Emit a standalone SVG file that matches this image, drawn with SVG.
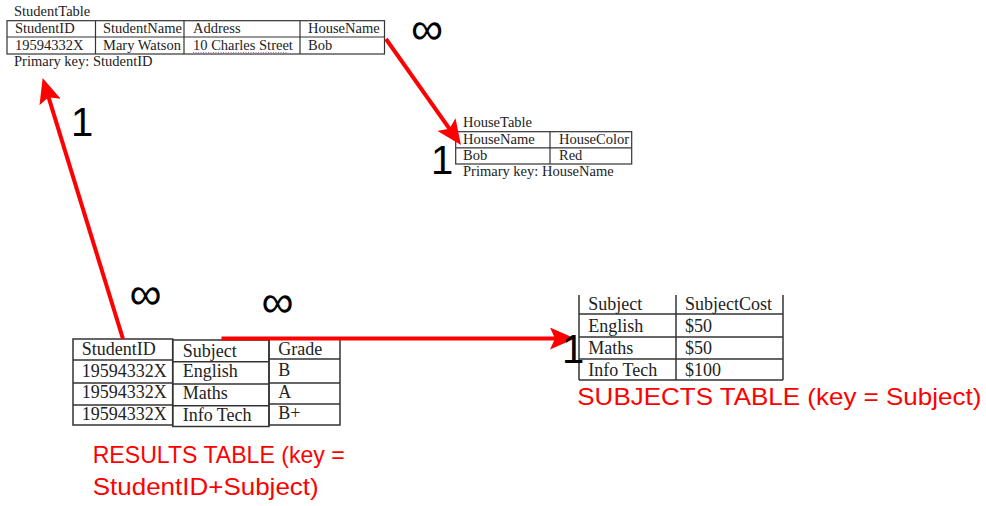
<svg xmlns="http://www.w3.org/2000/svg" width="986" height="506" viewBox="0 0 986 506">
<defs>
<marker id="arr" markerUnits="userSpaceOnUse" markerWidth="26" markerHeight="22" refX="15" refY="11" orient="auto">
<path d="M0,0 L25,11 L0,22 L5,11 Z" fill="#ff0000"/>
</marker>
</defs>
<style>
.t{font-family:"Liberation Serif","Times New Roman",serif;fill:#222}
.s{font-size:14.5px}
.b{font-size:18px}
.box{fill:none;stroke:#333;stroke-width:1.2}
.bx2{fill:none;stroke:#333;stroke-width:1.5}
.big{font-family:"Liberation Sans",Arial,sans-serif;font-size:40px;fill:#000;text-anchor:middle}
.inf{font-size:45px}
.red{font-family:"Liberation Sans",Arial,sans-serif;font-size:24px;fill:#ff0000}
.con{stroke:#ff0000;stroke-width:4;fill:none;marker-end:url(#arr)}
</style>
<rect width="986" height="506" fill="#ffffff"/>

<g id="student-table">
<text class="t s" x="14" y="16">StudentTable</text>
<rect class="box" x="7" y="20.7" width="377.5" height="33.3"/>
<line class="box" x1="7" y1="37" x2="384.5" y2="37"/>
<line class="box" x1="95.5" y1="20.7" x2="95.5" y2="54"/>
<line class="box" x1="184" y1="20.7" x2="184" y2="54"/>
<line class="box" x1="300" y1="20.7" x2="300" y2="54"/>
<text class="t s" x="15" y="33">StudentID</text>
<text class="t s" x="103" y="33">StudentName</text>
<text class="t s" x="193" y="33">Address</text>
<text class="t s" x="308" y="33">HouseName</text>
<text class="t s" x="15" y="50">19594332X</text>
<text class="t s" x="103" y="50">Mary Watson</text>
<text class="t s" x="193" y="50">10 Charles Street</text>
<line x1="193" y1="52.5" x2="287" y2="52.5" stroke="#b070c0" stroke-width="1" stroke-dasharray="1,1.5"/>
<text class="t s" x="308" y="50">Bob</text>
<text class="t s" x="14" y="66">Primary key: StudentID</text>
</g>

<g id="house-table">
<text class="t s" x="463" y="127">HouseTable</text>
<rect class="box" x="455.7" y="131.7" width="176" height="32.3"/>
<line class="box" x1="455.7" y1="147.8" x2="631.7" y2="147.8"/>
<line class="box" x1="550" y1="131.7" x2="550" y2="164"/>
<text class="t s" x="463" y="143.5">HouseName</text>
<text class="t s" x="559" y="143.5">HouseColor</text>
<text class="t s" x="463" y="160">Bob</text>
<text class="t s" x="559" y="160">Red</text>
<text class="t s" x="463" y="176">Primary key: HouseName</text>
</g>

<g id="results-table">
<rect class="bx2" x="73" y="339" width="99.7" height="86"/>
<line class="bx2" x1="73" y1="360" x2="172.7" y2="360"/>
<line class="bx2" x1="73" y1="383" x2="172.7" y2="383"/>
<line class="bx2" x1="73" y1="405" x2="172.7" y2="405"/>
<rect class="bx2" x="172.7" y="340" width="96.3" height="86.5"/>
<line class="bx2" x1="172.7" y1="361.7" x2="269" y2="361.7"/>
<line class="bx2" x1="172.7" y1="384" x2="269" y2="384"/>
<line class="bx2" x1="172.7" y1="405.7" x2="269" y2="405.7"/>
<rect class="bx2" x="269" y="339" width="71" height="86"/>
<line class="bx2" x1="269" y1="359" x2="340" y2="359"/>
<line class="bx2" x1="269" y1="383" x2="340" y2="383"/>
<line class="bx2" x1="269" y1="404" x2="340" y2="404"/>
<text class="t b" x="81.7" y="355">StudentID</text>
<text class="t b" x="182.7" y="356.5">Subject</text>
<text class="t b" x="278.3" y="354.5">Grade</text>
<text class="t b" x="81.7" y="376.5">19594332X</text>
<text class="t b" x="182.7" y="377">English</text>
<text class="t b" x="278.3" y="376">B</text>
<text class="t b" x="81.7" y="398">19594332X</text>
<text class="t b" x="182.7" y="399">Maths</text>
<text class="t b" x="278.3" y="398">A</text>
<text class="t b" x="81.7" y="420">19594332X</text>
<text class="t b" x="182.7" y="421">Info Tech</text>
<text class="t b" x="278.3" y="419">B+</text>
<text class="red" x="92.7" y="463.3" textLength="252" lengthAdjust="spacingAndGlyphs">RESULTS TABLE (key =</text>
<text class="red" x="92.7" y="495" textLength="226" lengthAdjust="spacingAndGlyphs">StudentID+Subject)</text>
</g>

<g id="subjects-table">
<line class="bx2" x1="579" y1="295" x2="579" y2="380"/>
<line class="bx2" x1="676" y1="295" x2="676" y2="380"/>
<line class="bx2" x1="783" y1="295" x2="783" y2="380"/>
<line class="bx2" x1="579" y1="314" x2="783" y2="314"/>
<line class="bx2" x1="579" y1="337" x2="783" y2="337"/>
<line class="bx2" x1="579" y1="359" x2="783" y2="359"/>
<line class="bx2" x1="579" y1="380" x2="783" y2="380"/>
<text class="t b" x="588.3" y="310">Subject</text>
<text class="t b" x="685" y="310">SubjectCost</text>
<text class="t b" x="588.3" y="331.7">English</text>
<text class="t b" x="685" y="331.7">$50</text>
<text class="t b" x="588.3" y="354.3">Maths</text>
<text class="t b" x="685" y="354.3">$50</text>
<text class="t b" x="588.3" y="375.7">Info Tech</text>
<text class="t b" x="685" y="375.7">$100</text>
<text class="red" x="577.3" y="405" textLength="404" lengthAdjust="spacingAndGlyphs">SUBJECTS TABLE (key = Subject)</text>
</g>

<g id="connectors">
<line class="con" x1="123" y1="339" x2="45.6" y2="87.6"/>
<line class="con" x1="386" y1="39" x2="455.2" y2="136.8"/>
<line class="con" x1="221.5" y1="338.5" x2="565" y2="338.5"/>
</g>

<g id="cardinality-labels">
<text class="big inf" x="427" y="44">∞</text>
<text class="big" x="82" y="136">1</text>
<text class="big" x="442" y="174">1</text>
<text class="big inf" x="145.5" y="309">∞</text>
<text class="big inf" x="277.5" y="317">∞</text>
<text class="big" x="573" y="362.7">1</text>
</g>
</svg>
